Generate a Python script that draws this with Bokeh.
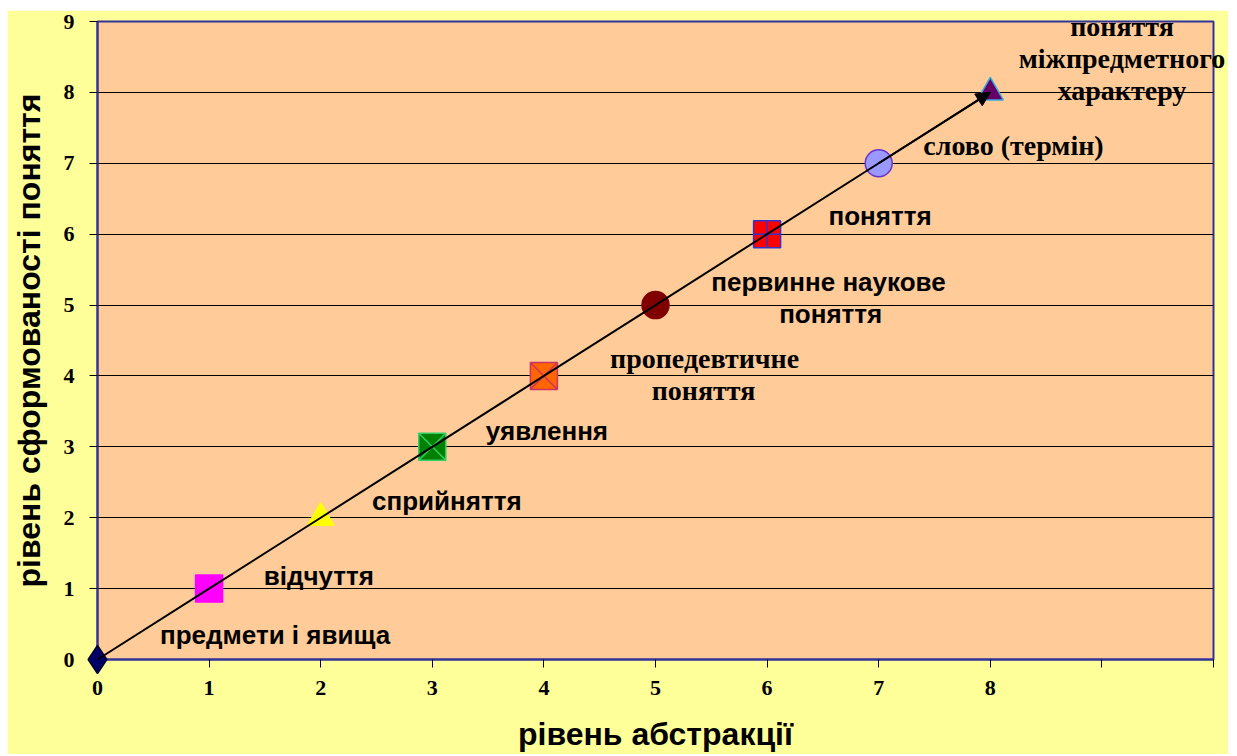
from bokeh.plotting import figure
from bokeh.models import ColumnDataSource, Arrow, NormalHead, FixedTicker, Range1d, Spacer
from bokeh.layouts import column, row
from bokeh.core.properties import value
from bokeh.embed import file_html
from bokeh.resources import INLINE

# data
xs = [0, 1, 2, 3, 4, 5, 6, 7, 8]
ys = [0, 1, 2, 3, 4, 5, 6, 7, 8]
x_ticks = [0, 1, 2, 3, 4, 5, 6, 7, 8, 9, 10]
x_tick_labels = ["0", "1", "2", "3", "4", "5", "6", "7", "8", "", ""]
y_ticks = [0, 1, 2, 3, 4, 5, 6, 7, 8, 9]

# labels (sans)
sans_text = ["предмети і явища", "відчуття", "сприйняття", "уявлення",
             "первинне наукове", "поняття", "поняття"]
sans_x = [0.56, 1.49, 2.46, 3.48, 6.55, 6.57, 6.55]
sans_y = [0.34, 1.18, 2.24, 3.23, 5.32, 4.87, 6.26]
sans_align = ["left", "left", "left", "left", "center", "center", "left"]
# labels (serif)
serif_text = ["пропедевтичне", "поняття", "слово (термін)",
              "поняття", "міжпредметного", "характеру"]
serif_x = [5.44, 5.43, 7.40, 9.18, 9.18, 9.18]
serif_y = [4.25, 3.79, 7.25, 8.93, 8.48, 8.03]
serif_align = ["center", "center", "left", "center", "center", "center"]

# marker styles
markers = ["diamond", "square", "triangle", "square_x", "square_x",
           "circle", "square_cross", "circle", "triangle"]
fills = ["#000066", "#FF00FF", "#FFFF00", "#008000", "#FF6600",
         "#800000", "#FF0000", "#9999FF", "#660066"]
lines = ["#000033", "#FF00FF", "#FFFF00", "#33CC66", "#CC3366",
         "#800000", "#3333CC", "#6633CC", "#33AADD"]
sizes = [28, 27, 26, 27, 27, 27, 27, 27, 26]

p = figure(width=1221, height=744, output_backend="svg", toolbar_location=None,
           x_range=Range1d(0, 10), y_range=Range1d(0, 9),
           min_border_left=90, min_border_right=15, min_border_top=11, min_border_bottom=95)
p.background_fill_color = "#FFCC99"
p.border_fill_color = "#FFFF99"
p.outline_line_color = "#333399"
p.outline_line_width = 2

p.xgrid.visible = False
p.ygrid.grid_line_color = "#000000"
p.ygrid.grid_line_width = 1
p.ygrid.ticker = FixedTicker(ticks=y_ticks)

p.xaxis.ticker = FixedTicker(ticks=x_ticks)
p.xaxis.major_label_overrides = {t: l for t, l in zip(x_ticks, x_tick_labels)}
p.yaxis.ticker = FixedTicker(ticks=y_ticks)
for ax in (p.xaxis, p.yaxis):
    ax.axis_line_color = "#333399"
    ax.axis_line_width = 2
    ax.major_tick_line_color = "#000000"
    ax.major_tick_out = 8
    ax.major_tick_in = 0
    ax.minor_tick_line_color = None
    ax.major_label_text_font = "Liberation Serif"
    ax.major_label_text_font_style = "bold"
    ax.major_label_text_font_size = "22px"
    ax.major_label_text_color = "#000000"
    ax.axis_label_text_font = "Liberation Sans"
    ax.axis_label_text_font_style = "bold"
    ax.axis_label_text_font_size = "32px"
    ax.axis_label_text_color = "#000000"
p.xaxis.axis_label = "рівень абстракції"
p.yaxis.axis_label = "рівень сформованості поняття"
p.xaxis.major_label_standoff = 13
p.yaxis.major_label_standoff = 15
p.xaxis.axis_label_standoff = 18
p.yaxis.axis_label_standoff = 14

s1 = ColumnDataSource(dict(x=sans_x, y=sans_y, t=sans_text, a=sans_align))
p.text(x="x", y="y", text="t", source=s1, text_align="a",
       text_baseline="middle", text_font=value("Liberation Sans"),
       text_font_style="bold", text_font_size="26px", text_color="#000000", level="overlay")
s2 = ColumnDataSource(dict(x=serif_x, y=serif_y, t=serif_text, a=serif_align))
p.text(x="x", y="y", text="t", source=s2, text_align="a",
       text_baseline="middle", text_font=value("Liberation Serif"),
       text_font_style="bold", text_font_size="28px", text_color="#000000", level="overlay")

src = ColumnDataSource(dict(x=xs, y=ys, marker=markers, fill=fills, line=lines, size=sizes))
p.scatter("x", "y", source=src, marker="marker", size="size",
          fill_color="fill", line_color="line", line_width=1.5, level="overlay")

p.line(xs, ys, line_color="#000000", line_width=2, level="overlay")
p.add_layout(Arrow(end=NormalHead(size=14, fill_color="#000000", line_color="#000000"),
                   x_start=xs[-2], y_start=ys[-2], x_end=xs[-1], y_end=ys[-1],
                   line_color="#000000", line_width=2, level="overlay"))

layout = column(Spacer(height=10), row(Spacer(width=7), p))
open("out.html", "w").write(file_html(layout, INLINE))
